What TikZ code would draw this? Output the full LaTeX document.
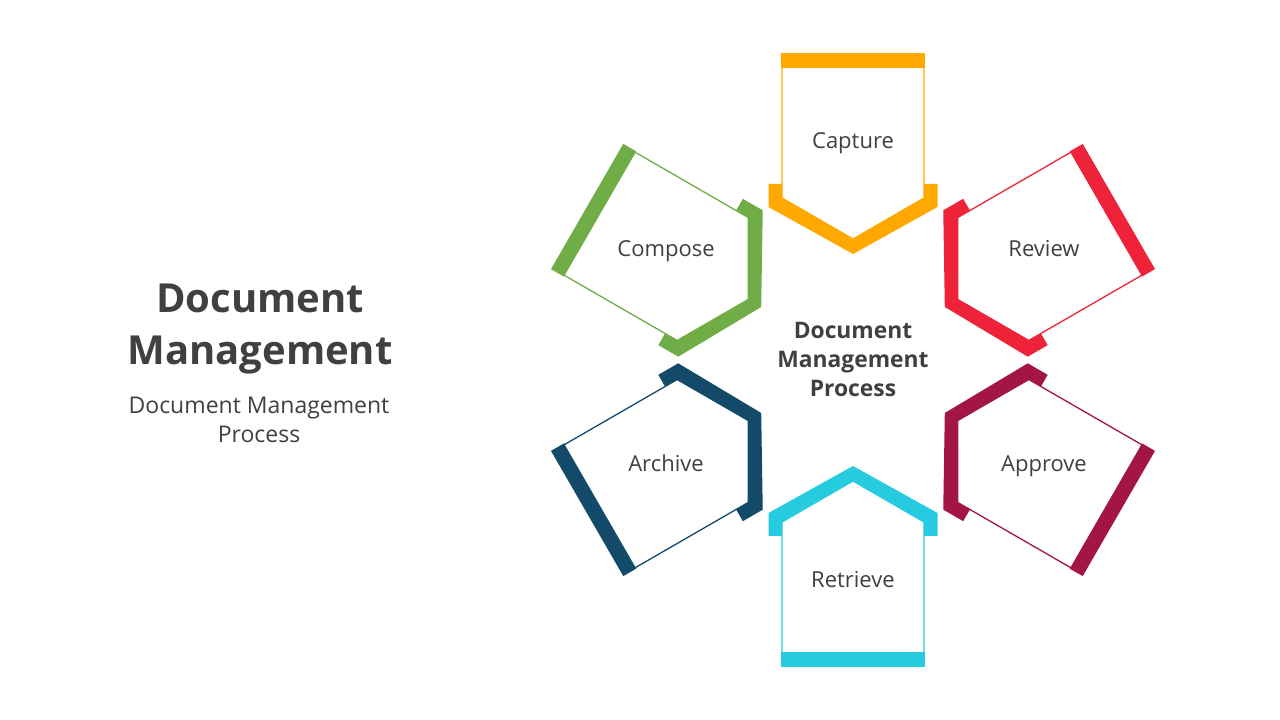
\documentclass[tikz,border=0pt]{standalone}
\usepackage{fontspec}
\setmainfont{Open Sans}
\definecolor{txt}{HTML}{404040}
\definecolor{cCapture}{HTML}{FFA800}
\definecolor{cReview}{HTML}{EE2239}
\definecolor{cApprove}{HTML}{A21545}
\definecolor{cRetrieve}{HTML}{26CBE0}
\definecolor{cArchive}{HTML}{134A6A}
\definecolor{cCompose}{HTML}{70AD47}
\tikzset{
  plabel/.style={anchor=base, text=txt, inner sep=0pt, font=\fontsize{22}{26}\selectfont},
  ctext/.style={anchor=base, text=txt, inner sep=0pt, font=\bfseries\fontsize{22.8}{27}\selectfont},
  ttext/.style={anchor=base, text=txt, inner sep=0pt, font=\bfseries\fontsize{40}{46}\selectfont},
  stext/.style={anchor=base, text=txt, inner sep=0pt, font=\fontsize{23}{27}\selectfont},
}
\newcommand{\pentblock}[2]{%
  \begin{scope}[shift={(853,360)}, rotate=#1]
    \draw[#2, line width=1.3pt, fill=white] (121,0) -- (162,71) -- (299,71) -- (299,-71) -- (162,-71) -- cycle;
    \fill[#2] (292,-72.3) rectangle (307,72.3);
    \fill[#2] (176,-84.5) -- (176,-71) -- (162,-71) -- (121,0) -- (162,71) -- (176,71)
      -- (176,84.5) -- (153,84.5) -- (106,0) -- (153,-84.5) -- cycle;
  \end{scope}}
\begin{document}
\begin{tikzpicture}[x=1pt,y=1pt]
  \fill[white] (0,0) rectangle (1280,720);
  \useasboundingbox (0,0) rectangle (1280,720);
  \pentblock{90}{cCapture}
  \pentblock{30}{cReview}
  \pentblock{-30}{cApprove}
  \pentblock{-90}{cRetrieve}
  \pentblock{-150}{cArchive}
  \pentblock{150}{cCompose}
  \node[plabel] (capture) at (853,571) {Capture};
  \node[plabel] (review) at (1044,463.5) {Review};
  \node[plabel] (approve) at (1044,248.5) {Approve};
  \node[plabel] (retrieve) at (853,132.3) {Retrieve};
  \node[plabel] (archive) at (666,248.5) {Archive};
  \node[plabel] (compose) at (666,463.5) {Compose};
  \node[ctext] (c1) at (853,381) {Document};
  \node[ctext] (c2) at (853,352) {Management};
  \node[ctext] (c3) at (853,323.5) {Process};
  \node[ttext] (t1) at (260,407.5) {Document};
  \node[ttext] (t2) at (260,355.5) {Management};
  \node[stext] (s1) at (259,306) {Document Management};
  \node[stext] (s2) at (259,277) {Process};
\end{tikzpicture}
\end{document}
